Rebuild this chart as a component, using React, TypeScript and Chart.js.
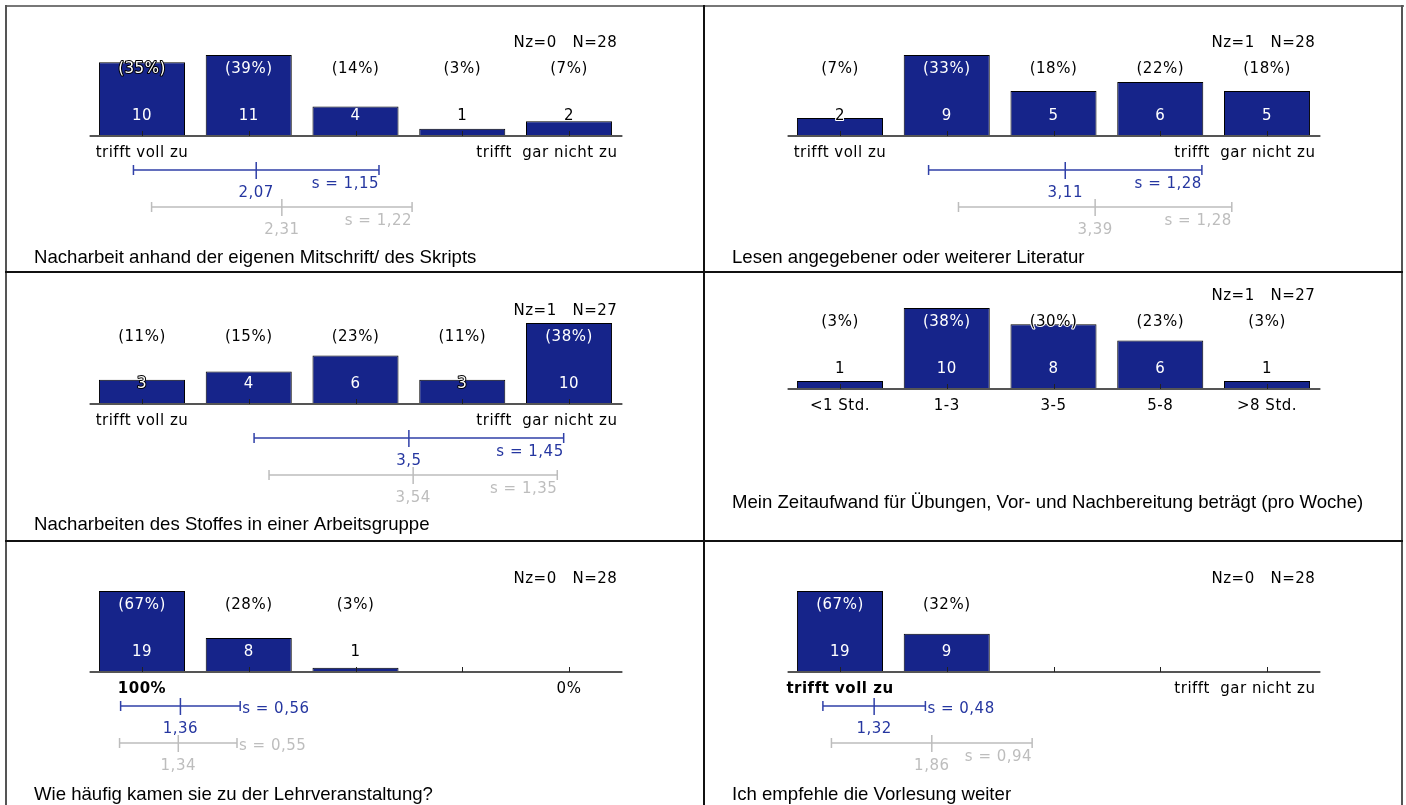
import React, { useEffect, useRef } from 'react';
import { Chart, registerables } from 'chart.js';

Chart.register(...registerables);

// ---------- data ----------
const agreeLeft = 'trifft voll zu';
const agreeRight = 'trifft  gar nicht zu';
const hoursLabels = ['<1 Std.', '1-3', '3-5', '5-8', '>8 Std.'];
const attendLeft = '100%';
const attendRight = '0%';
const categoryKeys = ['1', '2', '3', '4', '5'];

const p1Title = 'Nacharbeit anhand der eigenen Mitschrift/ des Skripts';
const p1Counts = [10, 11, 4, 1, 2];
const p1Percents = [35, 39, 14, 3, 7];
const p1Nz = 0;
const p1N = 28;
const p1Stats = [2.07, 1.15];
const p1RefStats = [2.31, 1.22];

const p2Title = 'Lesen angegebener oder weiterer Literatur';
const p2Counts = [2, 9, 5, 6, 5];
const p2Percents = [7, 33, 18, 22, 18];
const p2Nz = 1;
const p2N = 28;
const p2Stats = [3.11, 1.28];
const p2RefStats = [3.39, 1.28];

const p3Title = 'Nacharbeiten des Stoffes in einer Arbeitsgruppe';
const p3Counts = [3, 4, 6, 3, 10];
const p3Percents = [11, 15, 23, 11, 38];
const p3Nz = 1;
const p3N = 27;
const p3Stats = [3.5, 1.45];
const p3RefStats = [3.54, 1.35];

const p4Title = 'Mein Zeitaufwand für Übungen, Vor- und Nachbereitung beträgt (pro Woche)';
const p4Counts = [1, 10, 8, 6, 1];
const p4Percents = [3, 38, 30, 23, 3];
const p4Nz = 1;
const p4N = 27;

const p5Title = 'Wie häufig kamen sie zu der Lehrveranstaltung?';
const p5Counts = [19, 8, 1, 0, 0];
const p5Percents = [67, 28, 3, 0, 0];
const p5Nz = 0;
const p5N = 28;
const p5Stats = [1.36, 0.56];
const p5RefStats = [1.34, 0.55];

const p6Title = 'Ich empfehle die Vorlesung weiter';
const p6Counts = [19, 9, 0, 0, 0];
const p6Percents = [67, 32, 0, 0, 0];
const p6Nz = 0;
const p6N = 28;
const p6Stats = [1.32, 0.48];
const p6RefStats = [1.86, 0.94];

// ---------- styles ----------
const BAR = '#16248A';
const BLUE_LINE = '#3040A8';
const BLUE_TEXT = '#2536A0';
const GRAY = '#BDBDBD';
const NUM_FONT = '15px "DejaVu Sans"';
const NUM_FONT_BOLD = 'bold 15px "DejaVu Sans"';
const TITLE_FONT = '18.6px "Liberation Sans"';
const PW = 698;
const PH = 268;

type PanelCfg = {
  left: number;
  top: number;
  axisY: number;
  titleY: number;
  title: string;
  counts: number[];
  percents: number[];
  nz: number;
  n: number;
  stats?: number[];
  refStats?: number[];
  ends?: { left: string; right: string; leftBold?: boolean; rightCentered?: boolean };
  each?: string[];
};

const panels: PanelCfg[] = [
  { left: 6, top: 6, axisY: 130, titleY: 252, title: p1Title, counts: p1Counts, percents: p1Percents, nz: p1Nz, n: p1N, stats: p1Stats, refStats: p1RefStats, ends: { left: agreeLeft, right: agreeRight } },
  { left: 704, top: 6, axisY: 130, titleY: 252, title: p2Title, counts: p2Counts, percents: p2Percents, nz: p2Nz, n: p2N, stats: p2Stats, refStats: p2RefStats, ends: { left: agreeLeft, right: agreeRight } },
  { left: 6, top: 273, axisY: 131, titleY: 252, title: p3Title, counts: p3Counts, percents: p3Percents, nz: p3Nz, n: p3N, stats: p3Stats, refStats: p3RefStats, ends: { left: agreeLeft, right: agreeRight } },
  { left: 704, top: 273, axisY: 116, titleY: 230, title: p4Title, counts: p4Counts, percents: p4Percents, nz: p4Nz, n: p4N, each: hoursLabels },
  { left: 6, top: 541, axisY: 131, titleY: 254, title: p5Title, counts: p5Counts, percents: p5Percents, nz: p5Nz, n: p5N, stats: p5Stats, refStats: p5RefStats, ends: { left: attendLeft, right: attendRight, leftBold: true, rightCentered: true } },
  { left: 704, top: 541, axisY: 131, titleY: 254, title: p6Title, counts: p6Counts, percents: p6Percents, nz: p6Nz, n: p6N, stats: p6Stats, refStats: p6RefStats, ends: { left: agreeLeft, right: agreeRight, leftBold: true } },
];

const fmt = (v: number) => String(v).replace('.', ',');

function smartText(ctx: CanvasRenderingContext2D, text: string, x: number, y: number, barTop: number) {
  ctx.lineJoin = 'round';
  if (barTop < y - 7) {
    ctx.fillStyle = '#ffffff';
    ctx.fillText(text, x, y);
  } else if (barTop < y) {
    ctx.strokeStyle = '#000000';
    ctx.lineWidth = 2;
    ctx.strokeText(text, x, y);
    ctx.fillStyle = '#ffffff';
    ctx.fillText(text, x, y);
  } else if (barTop < y + 7) {
    ctx.strokeStyle = '#ffffff';
    ctx.lineWidth = 2;
    ctx.strokeText(text, x, y);
    ctx.fillStyle = '#000000';
    ctx.fillText(text, x, y);
  } else {
    ctx.fillStyle = '#000000';
    ctx.fillText(text, x, y);
  }
}

function makeOverlay(cfg: PanelCfg) {
  return {
    id: 'overlay',
    afterDatasetsDraw(chart: any) {
      const ctx: CanvasRenderingContext2D = chart.ctx;
      const xs = chart.scales.x;
      const ys = chart.scales.y;
      const area = chart.chartArea;
      const A = ys.getPixelForValue(0);
      ctx.save();
      (ctx as any).letterSpacing = '0.5px';
      // axis line
      ctx.strokeStyle = '#555555';
      ctx.lineWidth = 2;
      ctx.beginPath();
      ctx.moveTo(area.left + 1, A);
      ctx.lineTo(area.right, A);
      ctx.stroke();
      // ticks
      ctx.strokeStyle = '#222222';
      ctx.lineWidth = 1;
      cfg.counts.forEach((_, i) => {
        const x = Math.round(xs.getPixelForValue(i)) + 0.5;
        ctx.beginPath();
        ctx.moveTo(x, A - 5);
        ctx.lineTo(x, A);
        ctx.stroke();
      });
      ctx.textBaseline = 'middle';
      ctx.font = NUM_FONT;
      // Nz / N
      ctx.textAlign = 'right';
      ctx.fillStyle = '#000000';
      ctx.fillText(`Nz=${cfg.nz}   N=${cfg.n}`, area.right - 5, A - 93);
      // bar labels
      ctx.textAlign = 'center';
      cfg.counts.forEach((c, i) => {
        if (!c) return;
        const x = xs.getPixelForValue(i);
        const top = ys.getPixelForValue(c);
        smartText(ctx, `(${cfg.percents[i]}%)`, x, A - 67, top);
        smartText(ctx, String(c), x, A - 20, top);
      });
      // category labels
      ctx.fillStyle = '#000000';
      const ly = A + 17;
      if (cfg.each) {
        ctx.textAlign = 'center';
        cfg.each.forEach((t, i) => ctx.fillText(t, xs.getPixelForValue(i), ly));
      } else if (cfg.ends) {
        ctx.font = cfg.ends.leftBold ? NUM_FONT_BOLD : NUM_FONT;
        ctx.textAlign = 'center';
        ctx.fillText(cfg.ends.left, xs.getPixelForValue(0), ly);
        ctx.font = NUM_FONT;
        if (cfg.ends.rightCentered) {
          ctx.textAlign = 'center';
          ctx.fillText(cfg.ends.right, xs.getPixelForValue(4), ly);
        } else {
          ctx.textAlign = 'right';
          ctx.fillText(cfg.ends.right, area.right - 5, ly);
        }
      }
      // mean / sd lines
      const drawStat = (st: number[] | undefined, lineY: number, lineColor: string, textColor: string) => {
        if (!st) return;
        const [m, s] = st;
        const xm = xs.getPixelForValue(m - 1);
        const xl = xs.getPixelForValue(m - s - 1);
        const xr = xs.getPixelForValue(m + s - 1);
        ctx.strokeStyle = lineColor;
        ctx.lineWidth = 1.5;
        ctx.beginPath();
        ctx.moveTo(xl, lineY);
        ctx.lineTo(xr, lineY);
        ctx.moveTo(xl, lineY - 5);
        ctx.lineTo(xl, lineY + 5);
        ctx.moveTo(xr, lineY - 5);
        ctx.lineTo(xr, lineY + 5);
        ctx.moveTo(xm, lineY - 8);
        ctx.lineTo(xm, lineY + 9);
        ctx.stroke();
        ctx.fillStyle = textColor;
        ctx.font = NUM_FONT;
        ctx.textAlign = 'center';
        ctx.fillText(fmt(m), xm, lineY + 23);
        const sText = `s = ${fmt(s)}`;
        if (xr - xl > 150) {
          ctx.textAlign = 'right';
          ctx.fillText(sText, xr, lineY + 14);
        } else {
          ctx.textAlign = 'left';
          ctx.fillText(sText, xr + 2, lineY + 3);
        }
      };
      drawStat(cfg.stats, A + 34, BLUE_LINE, BLUE_TEXT);
      drawStat(cfg.refStats, A + 71, GRAY, GRAY);
      // title
      (ctx as any).letterSpacing = '0px';
      ctx.fillStyle = '#000000';
      ctx.font = TITLE_FONT;
      ctx.textAlign = 'left';
      ctx.fillText(cfg.title, 28, cfg.titleY);
      ctx.restore();
    },
  };
}

function Panel({ cfg }: { cfg: PanelCfg }) {
  const ref = useRef<HTMLCanvasElement | null>(null);
  useEffect(() => {
    if (!ref.current) return;
    const maxV = Math.max(...cfg.counts);
    const chart = new Chart(ref.current, {
      type: 'bar',
      data: {
        labels: categoryKeys,
        datasets: [
          {
            data: cfg.counts,
            backgroundColor: BAR,
            borderColor: '#000000',
            borderWidth: 1,
            barPercentage: 0.806,
            categoryPercentage: 1,
          },
        ],
      },
      options: {
        responsive: false,
        animation: false,
        devicePixelRatio: 1,
        layout: {
          padding: { left: 82.6, right: PW - 616.4, top: cfg.axisY - 81, bottom: PH - cfg.axisY },
        },
        scales: {
          x: { display: false },
          y: { display: false, min: 0, max: maxV },
        },
        plugins: { legend: { display: false }, tooltip: { enabled: false } },
      },
      plugins: [makeOverlay(cfg)],
    } as any);
    return () => chart.destroy();
  }, [cfg]);
  return (
    <div style={{ position: 'absolute', left: cfg.left, top: cfg.top, width: PW, height: PH }}>
      <canvas ref={ref} width={PW} height={PH} style={{ width: PW, height: PH, display: 'block' }} />
    </div>
  );
}

const line = (l: number, t: number, w: number, h: number, c: string) => (
  <div style={{ position: 'absolute', left: l, top: t, width: w, height: h, background: c }} />
);

export default function App() {
  return (
    <div style={{ position: 'fixed', left: 0, top: 0, width: 1406, height: 805, overflow: 'hidden', background: '#ffffff' }}>
      {panels.map((p, i) => (
        <Panel key={i} cfg={p} />
      ))}
      {line(6, 5, 1398, 2, '#777777')}
      {line(5, 5, 2, 820, '#555555')}
      {line(1401, 5, 2, 820, '#555555')}
      {line(703, 5, 2, 820, '#111111')}
      {line(5, 271, 1398, 2, '#111111')}
      {line(5, 540, 1398, 2, '#111111')}
    </div>
  );
}
